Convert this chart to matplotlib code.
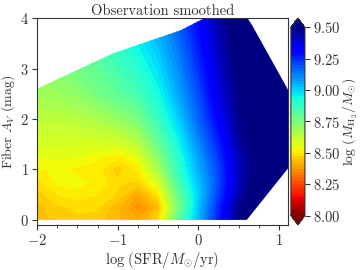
import numpy as np
import matplotlib
matplotlib.use('Agg')
import matplotlib.pyplot as plt
from matplotlib.patches import Polygon
from matplotlib.ticker import FuncFormatter, MultipleLocator

# grid
x_grid = [-2.0, -1.75, -1.5, -1.25, -1.0, -0.75, -0.5, -0.25, 0.0, 0.25, 0.5, 0.75, 1.0, 1.25]
y_grid = [0.0, 0.25, 0.5, 0.75, 1.0, 1.25, 1.5, 2.0, 2.5, 3.0, 3.5, 4.0]

# log(M_H2/Msun), one row per y_grid value
z_y000 = [8.43, 8.46, 8.47, 8.46, 8.43, 8.40, 8.48, 8.80, 9.03, 9.27, 9.50, 9.60, 9.60, 9.60]
z_y025 = [8.44, 8.47, 8.48, 8.48, 8.43, 8.36, 8.43, 8.75, 9.02, 9.25, 9.48, 9.60, 9.60, 9.60]
z_y050 = [8.46, 8.50, 8.52, 8.50, 8.47, 8.40, 8.50, 8.78, 9.00, 9.22, 9.43, 9.56, 9.60, 9.60]
z_y075 = [8.49, 8.53, 8.53, 8.52, 8.48, 8.47, 8.58, 8.84, 9.02, 9.20, 9.42, 9.55, 9.60, 9.60]
z_y100 = [8.52, 8.53, 8.52, 8.51, 8.46, 8.51, 8.66, 8.88, 9.05, 9.21, 9.41, 9.53, 9.60, 9.60]
z_y125 = [8.55, 8.56, 8.55, 8.53, 8.51, 8.56, 8.72, 8.90, 9.07, 9.23, 9.42, 9.53, 9.60, 9.60]
z_y150 = [8.58, 8.58, 8.58, 8.58, 8.58, 8.63, 8.78, 8.93, 9.10, 9.26, 9.45, 9.55, 9.60, 9.60]
z_y200 = [8.63, 8.63, 8.64, 8.66, 8.70, 8.75, 8.87, 9.00, 9.16, 9.32, 9.48, 9.56, 9.60, 9.60]
z_y250 = [8.68, 8.69, 8.71, 8.76, 8.80, 8.85, 8.93, 9.06, 9.20, 9.36, 9.50, 9.58, 9.60, 9.60]
z_y300 = [8.72, 8.74, 8.77, 8.80, 8.85, 8.90, 8.98, 9.10, 9.24, 9.39, 9.52, 9.58, 9.60, 9.60]
z_y350 = [8.76, 8.78, 8.81, 8.85, 8.90, 8.95, 9.03, 9.14, 9.28, 9.42, 9.53, 9.58, 9.60, 9.60]
z_y400 = [8.80, 8.82, 8.85, 8.90, 8.95, 9.00, 9.07, 9.18, 9.31, 9.44, 9.54, 9.58, 9.60, 9.60]

# outline of the region covered by data
hull_x = [-2.0, 0.6, 1.2, 1.2, 0.665, 0.6, 0.1, -0.22, -1.06, -2.0]
hull_y = [0.0, 0.0, 1.2, 2.32, 3.86, 4.02, 4.02, 3.76, 3.3, 2.6]

cbar_ticks = [8.0, 8.25, 8.5, 8.75, 9.0, 9.25, 9.5]

plt.rcParams['font.family'] = 'serif'
plt.rcParams['font.serif'] = ['cmr10']
plt.rcParams['mathtext.fontset'] = 'cm'
plt.rcParams['axes.unicode_minus'] = False
plt.rcParams['font.size'] = 10
plt.rcParams['text.color'] = '0.2'
plt.rcParams['axes.labelcolor'] = '0.2'
plt.rcParams['xtick.color'] = '0.2'
plt.rcParams['ytick.color'] = '0.2'
plt.rcParams['xtick.major.pad'] = 2.5
plt.rcParams['ytick.major.pad'] = 2.5

Z = np.array([z_y000, z_y025, z_y050, z_y075, z_y100, z_y125,
              z_y150, z_y200, z_y250, z_y300, z_y350, z_y400])

fig = plt.figure(figsize=(3.6, 2.7), dpi=100)
ax = fig.add_axes([0.103, 0.167, 0.697, 0.766])
cax = fig.add_axes([0.808, 0.167, 0.039, 0.766])

levels = np.linspace(8.0, 9.5, 61)
cf = ax.contourf(x_grid, y_grid, Z, levels=levels, cmap='jet_r', extend='both')
clip = Polygon(np.column_stack([hull_x, hull_y]), closed=True, transform=ax.transData)
cf.set_clip_path(clip)

ax.set_xlim(-2.0, 1.11)
ax.set_ylim(-0.1, 4.0)
ax.xaxis.set_major_locator(MultipleLocator(1))
ax.xaxis.set_minor_locator(MultipleLocator(0.25))
ax.yaxis.set_major_locator(MultipleLocator(1))
fmt = FuncFormatter(lambda v, p: r'$%g$' % v)
ax.xaxis.set_major_formatter(fmt)
ax.yaxis.set_major_formatter(fmt)
ax.tick_params(which='both', direction='out', labelsize=10.5)
for s in ax.spines.values():
    s.set_color('0.2')

ax.set_title('Observation smoothed', fontsize=10.5, pad=2)
ax.set_xlabel(r'$\log\,(\mathrm{SFR}/M_{\odot}/\mathrm{yr})$', fontsize=10.5, labelpad=1)
ax.set_ylabel(r'$\mathrm{Fiber}\ A_V\ \mathrm{(mag)}$', fontsize=10, labelpad=2)

cb = fig.colorbar(cf, cax=cax, extend='both', ticks=cbar_ticks)
cb.ax.yaxis.set_major_formatter(FuncFormatter(lambda v, p: r'$%.2f$' % v))
cb.ax.tick_params(labelsize=10.5)
cb.ax.minorticks_off()
cb.outline.set_edgecolor('0.2')
cb.set_label(r'$\log\,(M_{\mathrm{H}_2}/M_{\odot})$', fontsize=10, labelpad=0)

fig.savefig('out.png', dpi=100)
